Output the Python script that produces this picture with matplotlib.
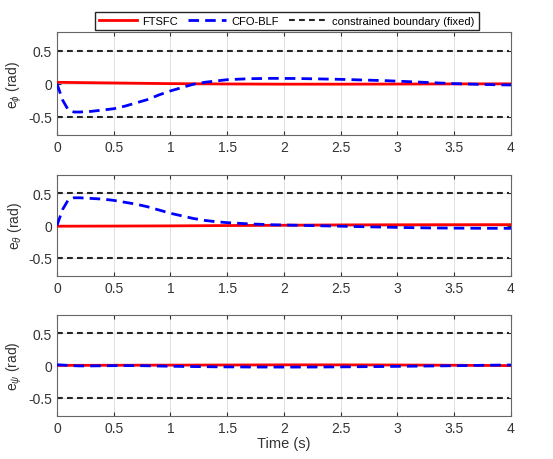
import matplotlib
matplotlib.use('Agg')
import matplotlib.pyplot as plt
import numpy as np

plt.rcParams['font.family'] = ['Liberation Sans', 'DejaVu Sans']
plt.rcParams['mathtext.fontset'] = 'custom'
plt.rcParams['mathtext.it'] = 'Liberation Sans:italic'
plt.rcParams['mathtext.rm'] = 'Liberation Sans'

# values
t_cfo = [0, 0.05, 0.1, 0.15, 0.2, 0.3, 0.4, 0.5, 0.6, 0.7, 0.8, 0.9, 1.0, 1.1, 1.2,
         1.3, 1.4, 1.5, 1.7, 1.9, 2.1, 2.3, 2.5, 2.7, 2.9, 3.1, 3.3, 3.5, 3.7, 3.9, 4.0]
phi_cfo = [0, -0.25, -0.4, -0.43, -0.43, -0.42, -0.40, -0.38, -0.34, -0.29, -0.24, -0.17,
           -0.11, -0.06, -0.01, 0.02, 0.04, 0.06, 0.075, 0.08, 0.078, 0.072, 0.065, 0.055,
           0.045, 0.03, 0.015, 0.0, -0.01, -0.018, -0.02]
theta_cfo = [0, 0.25, 0.4, 0.43, 0.43, 0.42, 0.41, 0.39, 0.36, 0.33, 0.29, 0.24,
             0.19, 0.15, 0.11, 0.08, 0.06, 0.045, 0.025, 0.012, 0.005, -0.003, -0.01, -0.018,
             -0.025, -0.032, -0.037, -0.04, -0.042, -0.043, -0.043]
psi_cfo = [0.01, 0.005, 0.0, -0.005, -0.008, -0.008, -0.006, -0.004, -0.003, -0.004, -0.006,
           -0.01, -0.013, -0.016, -0.018, -0.02, -0.022, -0.023, -0.025, -0.026, -0.026,
           -0.025, -0.023, -0.02, -0.017, -0.013, -0.009, -0.005, 0.0, 0.005, 0.006]

t_fts = [0, 0.5, 1.0, 1.5, 2.0, 2.5, 3.0, 3.5, 4.0]
phi_fts = [0.02, 0.01, 0.0, -0.005, -0.008, -0.008, -0.006, -0.004, -0.003]
theta_fts = [-0.01, -0.008, -0.005, 0.0, 0.005, 0.01, 0.012, 0.013, 0.014]
psi_fts = [0.0, 0.002, 0.004, 0.006, 0.008, 0.008, 0.006, 0.002, -0.003]

bound = 0.5
labels = [r'e$_{\phi}$ (rad)', r'e$_{\theta}$ (rad)', r'e$_{\psi}$ (rad)']
xticks = [0, 0.5, 1, 1.5, 2, 2.5, 3, 3.5, 4]
yticks = [-0.5, 0, 0.5]

fts_data = [phi_fts, theta_fts, psi_fts]
cfo_data = [phi_cfo, theta_cfo, psi_cfo]

fig = plt.figure(figsize=(5.53, 4.6), dpi=100)
tc = '#333333'
boxes = [[0.103, 0.704, 0.821, 0.224],
         [0.103, 0.398, 0.821, 0.219],
         [0.103, 0.094, 0.821, 0.219]]

for i in range(3):
    ax = fig.add_axes(boxes[i])
    l1, = ax.plot(t_fts, fts_data[i], color='red', lw=2, label='FTSFC', zorder=3)
    l2, = ax.plot(t_cfo, cfo_data[i], color='blue', lw=2, ls=(0, (3.8, 2.2)), label='CFO-BLF', zorder=4)
    l3, = ax.plot([0, 3.98], [bound, bound], color='#262626', lw=1.5, ls=(0, (2.8, 2)),
                  label='constrained boundary (fixed)', zorder=2)
    ax.plot([0, 3.98], [-bound, -bound], color='#262626', lw=1.5, ls=(0, (2.8, 2)), zorder=2)
    ax.set_xlim(0, 4)
    ax.set_ylim(-0.78, 0.78)
    ax.set_xticks(xticks)
    ax.set_xticklabels(['0', '0.5', '1', '1.5', '2', '2.5', '3', '3.5', '4'])
    ax.set_yticks(yticks)
    ax.set_yticklabels(['-0.5', '0', '0.5'])
    ax.grid(True, color='#e0e0e0', lw=0.7)
    ax.set_axisbelow(True)
    ax.tick_params(direction='in', length=3, colors=tc, labelsize=10, top=True, right=True)
    for s in ax.spines.values():
        s.set_color('#666666')
        s.set_linewidth(0.8)
    ax.set_ylabel(labels[i], fontsize=10, color=tc, labelpad=3)
    if i == 2:
        ax.set_xlabel('Time (s)', fontsize=10.5, color=tc, labelpad=1)
    if i == 0:
        fig.legend(handles=[l1, l2, l3], loc='center', bbox_to_anchor=(0.519, 0.953), ncol=3,
                   fontsize=8, frameon=True, fancybox=False, edgecolor='#262626',
                   handlelength=3.4, columnspacing=0.9, handletextpad=0.5, borderpad=0.35,
                   framealpha=1)

fig.savefig('out.png', dpi=100)
